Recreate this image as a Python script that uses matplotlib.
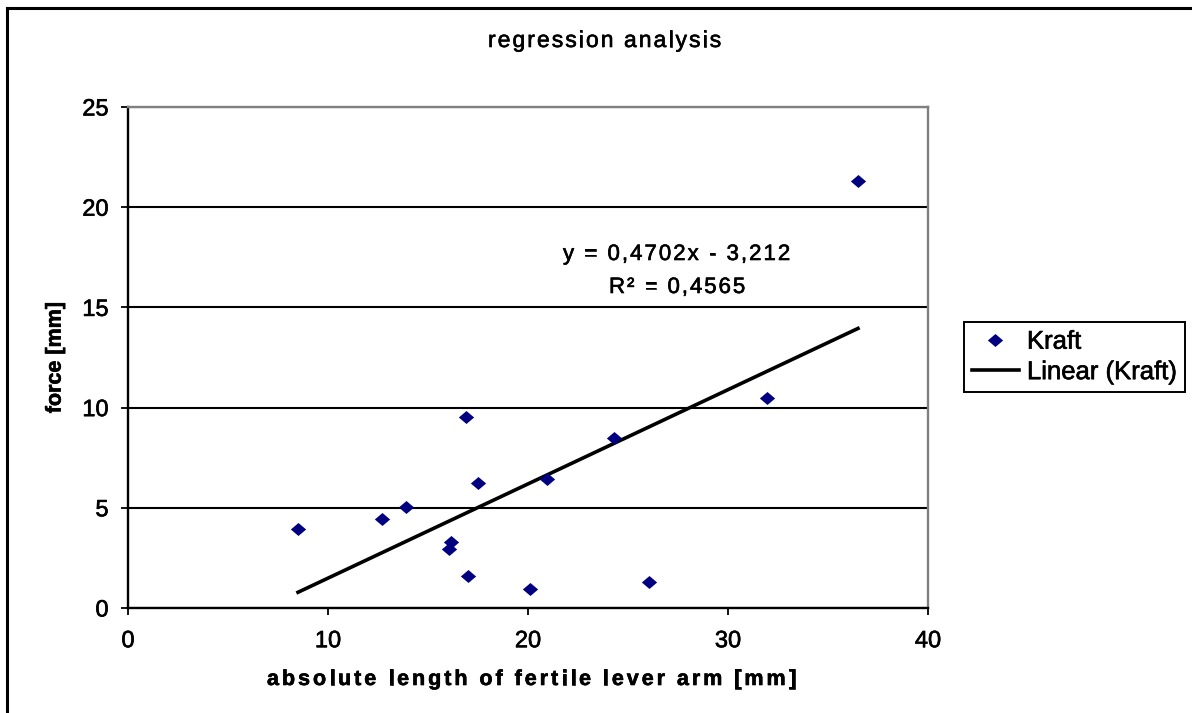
import matplotlib
matplotlib.use("Agg")
import matplotlib.pyplot as plt
import matplotlib.patheffects as pe
import numpy as np
from matplotlib.font_manager import FontProperties, findfont
from matplotlib.ft2font import FT2Font
from matplotlib.lines import Line2D
from matplotlib.path import Path

plt.rcParams['font.family'] = ['Liberation Sans', 'DejaVu Sans']

# data
lever_arm = [8.5, 12.7, 13.9, 16.05, 16.15, 16.88, 16.98, 17.48, 20.1, 20.93, 24.3, 26.05, 31.95, 36.5]
force = [3.95, 4.45, 5.02, 2.93, 3.28, 9.55, 1.61, 6.22, 0.93, 6.44, 8.5, 1.3, 10.5, 21.3]
slope, intercept = 0.4702, -3.212
x_ticks = [0, 10, 20, 30, 40]
y_ticks = [0, 5, 10, 15, 20, 25]

W, H = 1192, 713
# Excel's text looks heavier than plain Liberation Sans
heavy = [pe.withStroke(linewidth=0.45, foreground='black')]

fig = plt.figure(figsize=(W / 100, H / 100), dpi=100)
ax = fig.add_axes([128 / W, 1 - 608 / H, 800 / W, 501 / H])


def spread_text(x_left, x_right, y, s, size, weight='normal'):
    # Excel stretches chart text; spread the glyphs between x_left and x_right (px, baseline y)
    fp = FontProperties(family='Liberation Sans', size=size, weight=weight)
    ft = FT2Font(findfont(fp))
    ft.set_size(size, 100)
    adv = [ft.load_char(ord(c)).linearHoriAdvance / 65536 for c in s]
    extra = (x_right - x_left - sum(adv[:-1]) - adv[-1] * 0.9) / (len(s) - 1)
    x0 = x_left
    for c, a in zip(s, adv):
        fig.text(x0 / W, 1 - y / H, c, fontproperties=fp, ha='left', va='baseline',
                 path_effects=heavy)
        x0 += a + extra


diamond = Path([(-1, 0), (0, 0.85), (1, 0), (0, -0.85), (-1, 0)],
               [Path.MOVETO, Path.LINETO, Path.LINETO, Path.LINETO, Path.CLOSEPOLY])

ax.plot(lever_arm, force, linestyle='none', marker=diamond, markersize=11,
        color='#000080', markeredgewidth=0, label='Kraft', zorder=4)
xs = np.array([min(lever_arm), max(lever_arm)])
ax.plot(xs, slope * xs + intercept, color='black', linewidth=2.6,
        label='Linear (Kraft)', zorder=3)

ax.set_xlim(0, 40)
ax.set_ylim(0, 25)
ax.set_xticks(x_ticks)
ax.set_yticks(y_ticks)
ax.tick_params(axis='both', labelsize=17, length=5, width=1.3, color='black')
ax.tick_params(axis='x', pad=11)
ax.tick_params(axis='y', pad=9)
ax.yaxis.grid(True, color='black', linewidth=1.5)
ax.set_axisbelow(True)
for side in ['left', 'bottom']:
    ax.spines[side].set_color('black')
    ax.spines[side].set_linewidth(1.7)
for side in ['top', 'right']:
    ax.spines[side].set_color('#808080')
    ax.spines[side].set_linewidth(1.7)
for lbl in ax.get_xticklabels() + ax.get_yticklabels():
    lbl.set_path_effects(heavy)

ax.set_ylabel('force [mm]', fontsize=15.5, fontweight='bold', labelpad=12,
              family='Liberation Sans', path_effects=heavy)

leg = fig.legend(loc='upper left', bbox_to_anchor=(964 / W, 1 - 322 / H),
                 fontsize=18.5, frameon=True, fancybox=False, framealpha=1,
                 edgecolor='black', numpoints=1, handlelength=1.85,
                 handletextpad=0.3, borderpad=0.3, labelspacing=0.25,
                 borderaxespad=0)
leg.get_frame().set_linewidth(1.4)
for t in leg.get_texts():
    t.set_path_effects(heavy)

spread_text(488, 720, 47, 'regression analysis', 16.5)
spread_text(267, 795, 685, 'absolute length of fertile lever arm [mm]', 15.5, weight='bold')
spread_text(563, 789, 260, 'y = 0,4702x - 3,212', 16)
spread_text(609, 744, 293, 'R\u00b2 = 0,4565', 16)

# chart area border (only left and top edges visible in the crop)
fig.add_artist(Line2D([7.5 / W, 7.5 / W], [0, 1 - 7.5 / H], color='black', linewidth=2.2))
fig.add_artist(Line2D([7.5 / W, 1], [1 - 7.5 / H, 1 - 7.5 / H], color='black', linewidth=2.2))

fig.savefig('out.png', dpi=100)
